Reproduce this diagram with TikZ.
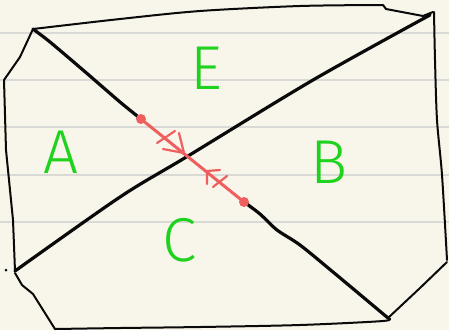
\documentclass[tikz,border=0pt]{standalone}
\usepackage{fontspec}
\IfFontExistsTF{Fira Sans Light}{\newfontfamily\hand{Fira Sans Light}}{\newfontfamily\hand{Fira Sans}}
\definecolor{paper}{RGB}{248,246,234}
\definecolor{rule}{RGB}{217,217,214}
\definecolor{ink}{RGB}{10,10,10}
\definecolor{redink}{RGB}{240,95,95}
\definecolor{greenink}{RGB}{30,210,30}
\tikzset{
  ruled/.style={rule, line width=2pt},
  outline/.style={ink, line width=2pt, line join=round, line cap=round},
  diag/.style={ink, line width=3.2pt, line join=round, line cap=round},
  redseg/.style={redink, line width=3pt, line cap=round, line join=round},
  tickmark/.style={redink, line width=2.2pt, line cap=round, line join=round},
  letter/.style={greenink, font=\hand\fontsize{62}{62}\selectfont, inner sep=0pt},
  rdot/.style={circle, fill=redink, inner sep=0pt, minimum size=10pt}
}
\begin{document}
\begin{tikzpicture}[x=1pt,y=-1pt]
\fill[paper] (0,0) rectangle (449,330);
\useasboundingbox (0,0) rectangle (449,330);
\foreach \yy in {33,80,127,175,222} \draw[ruled] (0,\yy) -- (449,\yy);
% outer boundary
\draw[outline] plot[smooth, tension=0.5] coordinates {(33,29) (120,19) (200,11) (300,6) (383,5)}
  -- (386,9) -- (423,16) -- (433,12);
\draw[outline] plot[smooth, tension=0.5] coordinates {(434,12) (435,60) (437,120) (442,175) (447,260)};
\draw[outline] (447,262) -- (420,288) -- (388,318);
\draw[outline] plot[smooth, tension=0.5] coordinates {(388,318) (383,321) (300,325) (200,327) (120,328) (55,329)};
\draw[outline] (55,329) -- (33,294) -- (22,285) -- (15,273);
\draw[outline] (15,271) -- (13,220) -- (6,150) -- (4,80) -- (20,57) -- (33,29);
\fill[ink] (6,270) circle (1.5pt);
% diagonal from top right to bottom left
\draw[diag] plot[smooth, tension=0.5] coordinates {(430,15) (313,80) (188,156) (120,197) (15,271)};
% diagonal from top left to bottom right
\coordinate (p1) at (141,119);
\coordinate (p2) at (244,202);
\draw[diag] plot[smooth, tension=0.5] coordinates {(33,29) (50,42) (83,70) (120,102) (141,119)};
\draw[diag] plot[smooth, tension=0.5] coordinates {(244,202) (260,214) (277,230) (300,245) (333,272) (388,318)};
\draw[redseg] (p1) -- (p2);
\node[rdot] (d1) at (p1) {};
\node[rdot] (d2) at (p2) {};
% marks
\draw[tickmark] (157,143) -- (175,131);
\draw[tickmark] (163,149) -- (184,153) -- (179,133);
\draw[tickmark] (220,170) -- (207,171) -- (207,184);
\draw[tickmark] (213,187) -- (227,176);
% labels
\node[letter] (E) at (206,68) {E};
\node[letter] (A) at (61,152) {A};
\node[letter] (B) at (329,162) {B};
\node[letter] (C) at (180,240) {C};
\end{tikzpicture}
\end{document}
